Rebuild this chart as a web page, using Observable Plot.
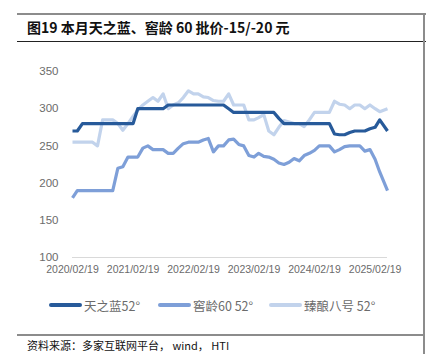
<!DOCTYPE html>
<html>
<head>
<meta charset="utf-8">
<script src="https://cdn.jsdelivr.net/npm/d3@7"></script>
<script src="https://cdn.jsdelivr.net/npm/@observablehq/plot@0.6"></script>
<style>
  html, body { margin: 0; padding: 0; background: #fff; }
  body { width: 426px; height: 354px; position: relative; overflow: hidden;
         font-family: "Noto Sans CJK SC", "Liberation Sans", sans-serif; }
  #topRule { position: absolute; left: 17px; top: 13px; width: 409px; height: 2px; background: #8c8c8c; }
  #titleRule { position: absolute; left: 17px; top: 40.5px; width: 409px; height: 1.3px; background: #222; }
  #rightRule { position: absolute; left: 423px; top: 13px; width: 2px; height: 341px; background: #8c8c8c; }
  #bottomRule { position: absolute; left: 17px; top: 333.5px; width: 408px; height: 2px; background: #8c8c8c; }
  #title { position: absolute; left: 27px; top: 17px; font-size: 14px; font-weight: bold; color: #111; white-space: nowrap; }
  #chart { position: absolute; left: 0; top: 50px; }
  #legend { position: absolute; left: 0; top: 296px; width: 426px; height: 18px; }
  .li { position: absolute; top: 0; display: flex; align-items: center; height: 18px; font-size: 12.5px; color: #6b6b6b; white-space: nowrap; }
  .sw { display: inline-block; width: 33px; height: 4px; border-radius: 2px; margin-right: 2px; }
  #source { position: absolute; left: 27px; top: 337px; font-size: 11px; color: #111; white-space: nowrap; }
</style>
</head>
<body>
<div id="topRule"></div>
<div id="titleRule"></div>
<div id="rightRule"></div>
<div id="bottomRule"></div>
<div id="title">图19 本月天之蓝、窖龄 60 批价-15/-20 元</div>
<div id="chart"></div>
<div id="legend"></div>
<div id="source">资料来源：多家互联网平台， wind， HTI</div>
<script>
// ---- data (monthly readings from 2020/02/19, last reading early May 2025) ----
const seriesNames = ["天之蓝52°", "窖龄60 52°", "臻酿八号 52°"];
const seriesColors = ["#275A9A", "#7E9FD8", "#C2D3EC"];
const startDate = "2020-02-19";
const lastDate = "2025-05-05";
const tianzhilan = [270,270,280,280,280,280,280,280,280,280,280,280,280,300,300,300,300,300,300,305,
  305,305,305,305,305,305,305,305,305,305,305,300,295,295,295,295,295,295,295,295,
  295,287,280,280,280,280,280,280,280,280,280,280,266,265,265,268,270,270,270,273,
  275,285,270];
const jiaoling60 = [180,190,190,190,190,190,190,190,190,220,222,235,235,235,247,250,245,245,245,240,
  240,247,253,255,255,255,258,260,242,250,250,258,259,252,250,237,235,240,236,235,
  232,227,225,228,233,230,237,240,244,250,250,250,242,245,249,250,250,250,243,245,
  232,215,190];
const zhenniang8 = [255,255,255,255,255,250,285,285,285,280,271,280,290,298,305,310,315,310,320,300,
  305,308,315,324,320,320,316,315,311,310,310,320,305,305,305,285,285,288,292,270,
  265,275,284,282,280,280,276,285,295,295,295,295,310,306,305,300,305,305,300,305,
  300,296,300];
const yTicks = [100, 150, 200, 250, 300, 350];
const xTickDates = ["2020-02-19","2021-02-19","2022-02-19","2023-02-19","2024-02-19","2025-02-19"];

// ---- build table ----
const t0 = new Date(startDate + "T00:00:00Z");
const n = tianzhilan.length;
const dates = d3.range(n).map(i => i < n - 1 ? d3.utcMonth.offset(t0, i) : new Date(lastDate + "T00:00:00Z"));
const rows = [];
[tianzhilan, jiaoling60, zhenniang8].forEach((vals, s) => {
  vals.forEach((v, i) => rows.push({date: dates[i], value: v, series: seriesNames[s]}));
});

const chart = Plot.plot({
  width: 426,
  height: 230,
  marginLeft: 72,
  marginRight: 39,
  marginTop: 21,
  marginBottom: 23,
  style: {fontFamily: "'Liberation Sans', Arial, sans-serif", fontSize: "11.5px", color: "#6b6b6b", background: "transparent"},
  x: {type: "utc", domain: [t0, new Date(lastDate + "T00:00:00Z")], ticks: xTickDates.map(d => new Date(d + "T00:00:00Z")),
      tickFormat: d3.utcFormat("%Y/%m/%d"), tickSize: 0, tickPadding: 8, label: null},
  y: {domain: [100, 350], ticks: yTicks, tickSize: 0, tickPadding: 14, label: null},
  color: {domain: seriesNames, range: seriesColors},
  marks: [
    Plot.ruleY([100], {stroke: "#d9d9d9", strokeWidth: 1}),
    Plot.line(rows, {x: "date", y: "value", z: "series", stroke: "series", strokeWidth: 3.2,
      strokeLinejoin: "round", strokeLinecap: "butt",
      sort: (a, b) => seriesNames.indexOf(b.series) - seriesNames.indexOf(a.series)})
  ]
});
const xg = chart.querySelector("[aria-label='x-axis tick label']");
if (xg) xg.setAttribute("font-size", "10.5px");
document.getElementById("chart").appendChild(chart);

// ---- legend ----
const legend = document.getElementById("legend");
const lx = [49, 158, 269];
seriesNames.forEach((name, i) => {
  const item = document.createElement("div");
  item.className = "li";
  item.style.left = lx[i] + "px";
  const sw = document.createElement("span");
  sw.className = "sw";
  sw.style.background = seriesColors[i];
  item.appendChild(sw);
  const lab = document.createElement("span");
  lab.textContent = name;
  item.appendChild(lab);
  legend.appendChild(item);
});
</script>
</body>
</html>
